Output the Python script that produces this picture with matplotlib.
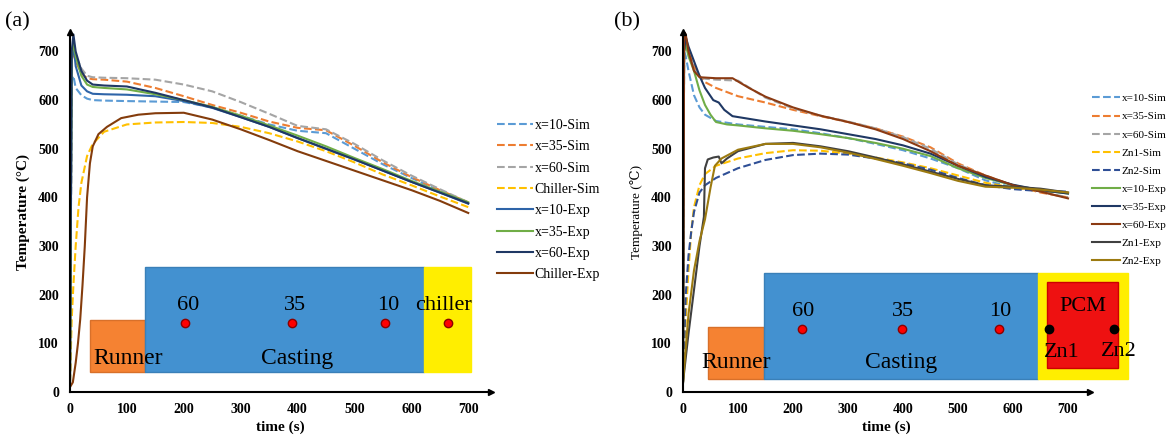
import matplotlib.pyplot as plt
from matplotlib.patches import Rectangle

plt.rcParams['font.family'] = ['Liberation Serif', 'DejaVu Serif']

# ---------------- panel (a) data ----------------
t_a = [0, 3, 6, 10, 20, 30, 40, 60, 100, 150, 200, 250, 300, 350, 400, 450, 500, 550, 600, 650, 700]
a_x10_sim = [20, 640, 650, 625, 610, 603, 600, 599, 598, 597, 596, 585, 568, 550, 537, 532, 500, 468, 440, 413, 388]
a_x35_sim = [20, 680, 700, 680, 655, 645, 643, 642, 638, 625, 608, 590, 574, 556, 543, 538, 506, 472, 442, 415, 390]
a_x60_sim = [20, 690, 705, 690, 665, 650, 647, 646, 645, 642, 632, 618, 596, 572, 547, 540, 510, 476, 445, 417, 390]
a_x10_exp = [20, 680, 715, 670, 630, 618, 613, 612, 611, 608, 598, 584, 565, 545, 522, 500, 478, 455, 432, 410, 387]
a_x35_exp = [20, 690, 720, 690, 650, 632, 627, 625, 622, 612, 600, 586, 568, 548, 527, 505, 481, 458, 434, 412, 390]
a_x60_exp = [20, 700, 735, 700, 660, 640, 632, 630, 628, 615, 600, 585, 565, 545, 522, 500, 478, 455, 432, 410, 388]

t_chill_sim = [0, 3, 6, 10, 15, 20, 30, 40, 60, 100, 150, 200, 250, 300, 350, 400, 450, 500, 550, 600, 650, 700]
a_chill_sim = [20, 150, 220, 300, 380, 430, 485, 510, 535, 550, 554, 555, 553, 545, 532, 515, 495, 472, 447, 425, 402, 380]
t_chill_exp = [0, 5, 10, 14, 18, 22, 26, 30, 35, 40, 50, 65, 90, 120, 150, 200, 250, 300, 350, 400, 450, 500, 550, 600, 650, 700]
a_chill_exp = [10, 20, 60, 100, 150, 220, 300, 400, 470, 505, 530, 545, 563, 570, 573, 574, 560, 540, 518, 495, 475, 455, 435, 415, 393, 368]

# ---------------- panel (b) data ----------------
t_b = [0, 2, 5, 10, 20, 30, 40, 60, 100, 150, 200, 250, 300, 350, 400, 450, 500, 550, 600, 650, 700]
b_x10_sim = [20, 700, 690, 660, 610, 585, 570, 557, 550, 545, 540, 532, 522, 510, 497, 480, 460, 435, 420, 413, 410]
b_x35_sim = [20, 700, 720, 700, 670, 650, 637, 625, 608, 595, 580, 567, 555, 542, 525, 503, 470, 445, 425, 410, 400]
b_x60_sim = [20, 710, 725, 700, 665, 648, 644, 642, 640, 605, 583, 568, 556, 542, 524, 500, 468, 444, 425, 412, 400]

t_zn_sim = [0, 5, 10, 15, 20, 30, 40, 60, 100, 150, 200, 250, 300, 350, 400, 450, 500, 550, 600, 650, 700]
b_zn1_sim = [20, 150, 250, 330, 380, 425, 448, 465, 480, 491, 497, 496, 490, 482, 472, 460, 445, 430, 420, 413, 410]
b_zn2_sim = [20, 200, 280, 330, 370, 410, 425, 440, 460, 477, 487, 490, 488, 480, 470, 457, 440, 425, 417, 413, 412]

t_x10_exp = [0, 2, 5, 10, 20, 30, 40, 50, 60, 80, 100, 150, 200, 250, 300, 350, 400, 450, 500, 550, 600, 650, 700]
b_x10_exp = [20, 700, 715, 690, 660, 620, 590, 570, 555, 550, 548, 542, 537, 530, 522, 512, 500, 485, 460, 440, 425, 415, 408]
t_x35_exp = [0, 2, 5, 10, 20, 30, 40, 55, 65, 75, 90, 150, 200, 250, 300, 350, 400, 450, 500, 550, 600, 650, 700]
b_x35_exp = [20, 700, 730, 710, 680, 650, 625, 600, 595, 580, 567, 556, 548, 540, 530, 520, 507, 490, 465, 442, 426, 415, 408]
t_x60_exp = [0, 2, 5, 10, 20, 30, 60, 90, 120, 150, 200, 250, 300, 350, 400, 450, 500, 550, 600, 650, 700]
b_x60_exp = [20, 740, 735, 700, 660, 647, 645, 645, 625, 607, 585, 568, 555, 540, 520, 495, 465, 445, 425, 412, 398]
t_zn1_exp = [0, 10, 20, 30, 38, 40, 45, 55, 65, 70, 80, 100, 150, 200, 250, 300, 350, 400, 450, 500, 550, 600, 650, 700]
b_zn1_exp = [20, 120, 210, 300, 360, 460, 478, 482, 484, 470, 480, 495, 510, 512, 505, 495, 482, 468, 453, 438, 425, 422, 418, 410]
t_zn2_exp = [0, 10, 20, 30, 40, 50, 58, 70, 100, 150, 200, 250, 300, 350, 400, 450, 500, 550, 600, 650, 700]
b_zn2_exp = [20, 160, 250, 310, 355, 420, 465, 480, 498, 510, 510, 503, 492, 479, 465, 450, 434, 422, 420, 416, 410]

ticks_x = [0, 100, 200, 300, 400, 500, 600, 700]
ticks_y = [0, 100, 200, 300, 400, 500, 600, 700]

c_blue_l = "#5b9bd5"
c_orange = "#ed7d31"
c_grey = "#a5a5a5"
c_yellow = "#ffc000"
c_green = "#70ad47"
c_navy = "#1f3864"
c_brown = "#843c0c"

fig = plt.figure(figsize=(11.74, 4.43), dpi=100)
ax1 = fig.add_axes([70 / 1174, 51 / 443, 421 / 1174, 360 / 443])
ax2 = fig.add_axes([683 / 1174, 51 / 443, 407 / 1174, 360 / 443])

lw = 1.5
ax1.plot(t_a, a_x10_sim, "--", color=c_blue_l, lw=lw, label="x=10-Sim")
ax1.plot(t_a, a_x35_sim, "--", color=c_orange, lw=lw, label="x=35-Sim")
ax1.plot(t_a, a_x60_sim, "--", color=c_grey, lw=lw, label="x=60-Sim")
ax1.plot(t_chill_sim, a_chill_sim, "--", color=c_yellow, lw=lw, label="Chiller-Sim")
ax1.plot(t_a, a_x10_exp, "-", color="#2e64a8", lw=lw, label="x=10-Exp")
ax1.plot(t_a, a_x35_exp, "-", color=c_green, lw=lw, label="x=35-Exp")
ax1.plot(t_a, a_x60_exp, "-", color=c_navy, lw=lw, label="x=60-Exp")
ax1.plot(t_chill_exp, a_chill_exp, "-", color=c_brown, lw=lw, label="Chiller-Exp")

ax2.plot(t_b, b_x10_sim, "--", color=c_blue_l, lw=lw, label="x=10-Sim")
ax2.plot(t_b, b_x35_sim, "--", color=c_orange, lw=lw, label="x=35-Sim")
ax2.plot(t_b, b_x60_sim, "--", color=c_grey, lw=lw, label="x=60-Sim")
ax2.plot(t_zn_sim, b_zn1_sim, "--", color=c_yellow, lw=lw, label="Zn1-Sim")
ax2.plot(t_zn_sim, b_zn2_sim, "--", color="#2f4f96", lw=lw, label="Zn2-Sim")
ax2.plot(t_x10_exp, b_x10_exp, "-", color=c_green, lw=lw, label="x=10-Exp")
ax2.plot(t_x35_exp, b_x35_exp, "-", color=c_navy, lw=lw, label="x=35-Exp")
ax2.plot(t_x60_exp, b_x60_exp, "-", color="#8b3a12", lw=lw, label="x=60-Exp")
ax2.plot(t_zn1_exp, b_zn1_exp, "-", color="#404040", lw=lw, label="Zn1-Exp")
ax2.plot(t_zn2_exp, b_zn2_exp, "-", color="#9c7a10", lw=lw, label="Zn2-Exp")

for ax in [ax1, ax2]:
    ax.set_xlim(0, 740)
    ax.set_ylim(0, 740)
    ax.set_xticks(ticks_x)
    ax.set_yticks(ticks_y)
    ax.spines["top"].set_visible(False)
    ax.spines["right"].set_visible(False)
    ax.spines["left"].set_linewidth(1.5)
    ax.spines["bottom"].set_linewidth(1.5)
    ax.tick_params(length=0, labelsize=10, pad=8)
    for lab in ax.get_xticklabels() + ax.get_yticklabels():
        lab.set_fontweight("bold")
    ax.set_xlabel("time (s)", fontsize=11, fontweight="bold", labelpad=3)
    ax.plot(0, 1, "^", color="black", ms=4, transform=ax.transAxes, clip_on=False)
    ax.plot(1, 0, ">", color="black", ms=5, transform=ax.transAxes, clip_on=False)

ax1.set_ylabel("Temperature (°C)", fontsize=11, fontweight="bold", labelpad=6)
ax2.set_ylabel("Temperature (℃)", fontsize=9.5, labelpad=6)

# schematic of panel (a)
ax1.add_patch(Rectangle((35, 41), 97, 107, facecolor="#f58232", edgecolor="#d8702a", zorder=5))
ax1.add_patch(Rectangle((132, 41), 490, 216, facecolor="#4391d0", edgecolor="#3a80b8", zorder=5))
ax1.add_patch(Rectangle((622, 41), 83, 216, facecolor="#ffee00", edgecolor="#ffee00", zorder=5))
ax1.text(102, 68, "Runner", fontsize=17, ha="center", va="center", zorder=6)
ax1.text(399, 68, "Casting", fontsize=17, ha="center", va="center", zorder=6)
ax1.text(656, 177, "chiller", fontsize=16, ha="center", va="center", zorder=6)
for xp, lab in [(202, "60"), (390, "35"), (554, "10")]:
    ax1.plot(xp, 142, "o", color="#ff0000", mec="#8b0000", ms=6, zorder=6)
    ax1.text(xp + 6, 177, lab, fontsize=16, ha="center", va="center", zorder=6)
ax1.plot(665, 142, "o", color="#ff0000", mec="#8b0000", ms=6, zorder=6)

# schematic of panel (b)
ax2.add_patch(Rectangle((45, 27), 102, 107, facecolor="#f58232", edgecolor="#d8702a", zorder=5))
ax2.add_patch(Rectangle((147, 27), 498, 218, facecolor="#4391d0", edgecolor="#3a80b8", zorder=5))
ax2.add_patch(Rectangle((645, 27), 164, 218, facecolor="#ffee00", edgecolor="#ffee00",
                        zorder=5, clip_on=False))
ax2.add_patch(Rectangle((662, 49), 129, 177, facecolor="#ee1111", edgecolor="#cc0000",
                        zorder=5, clip_on=False))
ax2.text(96, 60, "Runner", fontsize=17, ha="center", va="center", zorder=6)
ax2.text(396, 60, "Casting", fontsize=17, ha="center", va="center", zorder=6)
ax2.text(727, 175, "PCM", fontsize=16, ha="center", va="center", zorder=6)
for xp, lab in [(216, "60"), (398, "35"), (575, "10")]:
    ax2.plot(xp, 130, "o", color="#ff0000", mec="#8b0000", ms=6, zorder=6)
    ax2.text(xp + 2, 165, lab, fontsize=16, ha="center", va="center", zorder=6)
ax2.plot(665, 130, "o", color="black", ms=6, zorder=6, clip_on=False)
ax2.plot(784, 130, "o", color="black", ms=6, zorder=6, clip_on=False)
ax2.text(688, 82, "Zn1", fontsize=16, ha="center", va="center", zorder=6)
ax2.text(793, 84, "Zn2", fontsize=16, ha="center", va="center", zorder=6)

fig.text(5 / 1174, 1 - 22 / 443, "(a)", fontsize=16, va="center")
fig.text(614 / 1174, 1 - 22 / 443, "(b)", fontsize=16, va="center")

fig.legend(*ax1.get_legend_handles_labels(), loc="upper left",
           bbox_to_anchor=(490 / 1174, 1 - 112 / 443), frameon=False,
           fontsize=10, handlelength=2.6, handletextpad=0.1,
           labelspacing=0.6, borderpad=0)
fig.legend(*ax2.get_legend_handles_labels(), loc="upper left",
           bbox_to_anchor=(1086 / 1174, 1 - 88 / 443), frameon=False,
           fontsize=8, handlelength=2.6, handletextpad=0.1,
           labelspacing=0.75, borderpad=0)

fig.savefig("out.png", dpi=100)
